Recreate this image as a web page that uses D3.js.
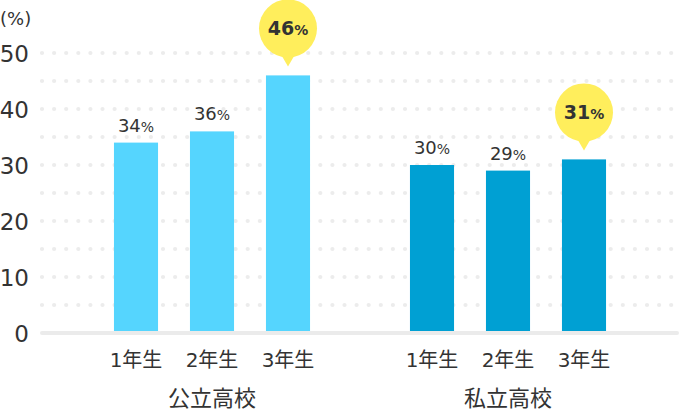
<!DOCTYPE html>
<html>
<head>
<meta charset="utf-8">
<script src="https://cdn.jsdelivr.net/npm/d3@7"></script>
<style>
  body { margin: 0; background: #fff; }
  svg { display: block; font-family: "DejaVu Sans", "Noto Sans CJK JP", sans-serif; }
</style>
</head>
<body>
<svg width="690" height="410"></svg>
<script>
// chart data
const groups = ["公立高校", "私立高校"];
const grades = ["1年生", "2年生", "3年生"];
const publicValues = [34, 36, 46];
const privateValues = [30, 29, 31];
const yTicks = [0, 10, 20, 30, 40, 50];
const highlight = 2; // 3年生 gets the bubble

const colors = { "公立高校": "#55d5fe", "私立高校": "#00a0d3" };

const svg = d3.select("svg");
const y = d3.scaleLinear().domain([0, 50]).range([333, 53]);

// one band per group, then one per grade inside it
const xGroup = d3.scaleBand().domain(groups).range([98, 690]).paddingInner(0);
const xGrade = d3.scaleBand().domain(grades).range([0, 228]).paddingInner(0.42).paddingOuter(0.21);

const data = [];
groups.forEach((g, gi) => {
    const vals = gi === 0 ? publicValues : privateValues;
    grades.forEach((gr, i) => data.push({ group: g, grade: gr, value: vals[i], hi: i === highlight }));
});
const barX = d => xGroup(d.group) + xGrade(d.grade);
const bw = xGrade.bandwidth();

// dotted grid rows every 5%
const dotRows = d3.range(5, 51, 5);
const dotXs = d3.range(42, 672, 12.1);
const grid = svg.append("g");
dotRows.forEach(v => {
    grid.selectAll(null).data(dotXs).join("circle")
        .attr("cx", d => d).attr("cy", y(v)).attr("r", 2.1)
        .attr("fill", "#ececec");
});

// baseline
svg.append("line")
    .attr("x1", 42).attr("x2", 677)
    .attr("y1", y(0)).attr("y2", y(0))
    .attr("stroke", "#ebebeb").attr("stroke-width", 4).attr("stroke-linecap", "round");

// y labels
svg.append("g").selectAll("text").data(yTicks).join("text")
    .attr("x", 29).attr("y", d => y(d) + 8.5)
    .attr("text-anchor", "end")
    .attr("font-size", 23).attr("fill", "#333")
    .text(d => d);

svg.append("text").attr("x", 0).attr("y", 25)
    .attr("font-size", 18).attr("fill", "#333").text("(%)");

// bars
svg.append("g").selectAll("rect").data(data).join("rect")
    .attr("x", barX).attr("width", bw)
    .attr("y", d => y(d.value)).attr("height", d => y(0) - 2 - y(d.value))
    .attr("fill", d => colors[d.group]);

// plain value labels
const plain = svg.append("g").selectAll("text").data(data.filter(d => !d.hi)).join("text")
    .attr("x", d => barX(d) + bw / 2).attr("y", d => y(d.value) - 11)
    .attr("text-anchor", "middle").attr("fill", "#333");
plain.append("tspan").attr("font-size", 18).text(d => d.value);
plain.append("tspan").attr("font-size", 14).text("%");

// bubbles for highlighted bars
const hi = svg.append("g").selectAll("g").data(data.filter(d => d.hi)).join("g")
    .attr("transform", d => `translate(${barX(d) + bw / 2},${y(d.value) - 47})`);
hi.append("circle").attr("r", 29).attr("fill", "#ffee5c");
hi.append("path").attr("d", "M-7,26 L7,26 L0,38 Z").attr("fill", "#ffee5c");
const ht = hi.append("text").attr("y", 7).attr("text-anchor", "middle")
    .attr("fill", "#333").attr("font-weight", "bold");
ht.append("tspan").attr("font-size", 19).text(d => d.value);
ht.append("tspan").attr("font-size", 14).text("%");

// grade labels
svg.append("g").selectAll("text").data(data).join("text")
    .attr("x", d => barX(d) + bw / 2).attr("y", 367)
    .attr("text-anchor", "middle").attr("font-size", 20).attr("fill", "#333")
    .text(d => d.grade);

// group labels
svg.append("g").selectAll("text").data(groups).join("text")
    .attr("x", g => xGroup(g) + 114)
    .attr("y", 406)
    .attr("text-anchor", "middle").attr("font-size", 22).attr("fill", "#333")
    .text(d => d);
</script>
</body>
</html>
